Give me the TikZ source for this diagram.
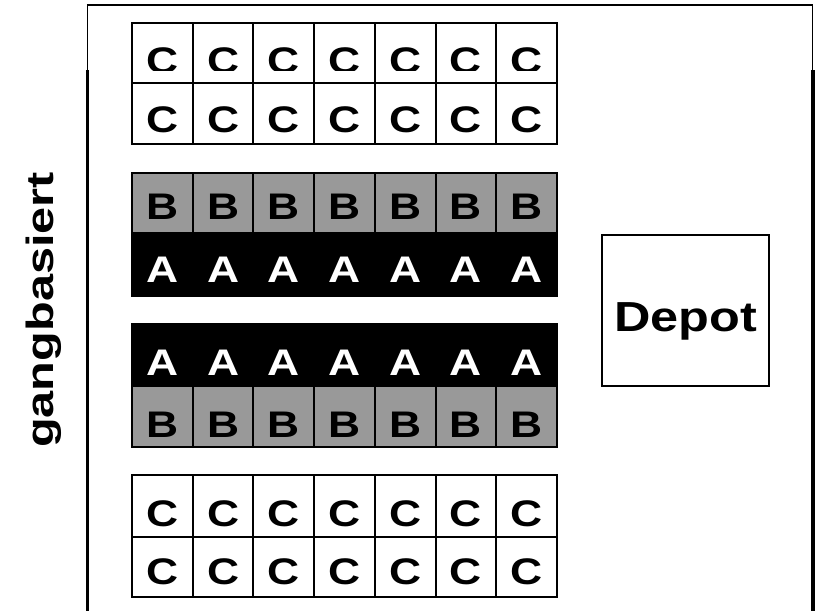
\documentclass[tikz,border=0pt]{standalone}
\usepackage{graphicx}
\usepackage{fontspec}
\setmainfont{Liberation Sans}
\definecolor{shelfgray}{RGB}{153,153,153}
\newcommand\binfont{\fontsize{37pt}{42pt}\selectfont\bfseries}
\newcommand\binletter[1]{\scalebox{1.2}[1]{#1}}
\begin{document}
\begin{tikzpicture}[x=1pt,y=-1pt,
  bin/.style={draw=black, line width=2pt, minimum width=60.71pt,
    minimum height=#1, inner sep=0pt, outer sep=0pt, anchor=north west,
    text depth=0pt, font=\binfont},
  binlabel/.style={inner sep=0pt, text depth=0pt, font=\binfont},
  zoneA/.style={fill=black, text=white},
  zoneB/.style={fill=shelfgray, text=black},
  zoneC/.style={fill=white, text=black}]
\useasboundingbox (0,0) rectangle (817,611);

% warehouse walls (open at the bottom)
\coordinate (wl0) at (87.5,5);
\coordinate (wlm) at (87.5,70);
\coordinate (wl1) at (87.5,611);
\coordinate (wr0) at (812.5,5);
\coordinate (wrm) at (812.5,70);
\coordinate (wr1) at (812.5,611);
\draw[line width=2pt] (86.75,5) -- (813.25,5);
\draw[line width=1.6pt] (wl0) -- (wlm);
\draw[line width=3.5pt] (wlm) -- (wl1);
\draw[line width=1.6pt] (wr0) -- (wrm);
\draw[line width=4pt] (wrm) -- (wr1);

% upper C racks
\foreach \c in {0,...,6} {
  \node[bin=60pt, zoneC] (ct1-\c) at ({132+60.71*\c},23) {};
  \node[bin=61pt, zoneC, text height=37pt] (ct2-\c) at ({132+60.71*\c},83) {\binletter{C}};
}
\begin{scope}
  \clip (132,23) rectangle (557,70.5);
  \foreach \c in {0,...,6}
    \node[binlabel, text height=41pt] (ct1l-\c) at (ct1-\c.center) {\binletter{C}};
\end{scope}

% first B/A rack
\foreach \c in {0,...,6} {
  \node[bin=60pt, zoneB, text height=32pt] (b1-\c) at ({132+60.71*\c},173) {\binletter{B}};
  \node[bin=63pt, zoneA, text height=35pt] (a1-\c) at ({132+60.71*\c},233) {\binletter{A}};
}

% second A/B rack
\foreach \c in {0,...,6} {
  \node[bin=62pt, zoneA, text height=40pt] (a2-\c) at ({132+60.71*\c},324) {\binletter{A}};
  \node[bin=61pt, zoneB, text height=41pt] (b2-\c) at ({132+60.71*\c},386) {\binletter{B}};
}

% lower C racks
\foreach \c in {0,...,6} {
  \node[bin=62pt, zoneC, text height=40pt] (cb1-\c) at ({132+60.71*\c},475) {\binletter{C}};
  \node[bin=60pt, zoneC, text height=34pt] (cb2-\c) at ({132+60.71*\c},537) {\binletter{C}};
}

% depot
\node[draw=black, line width=2pt, minimum width=167pt, minimum height=151pt,
  inner sep=0pt, anchor=north west, text height=41pt, text depth=0pt,
  font=\fontsize{42pt}{48pt}\selectfont\bfseries] (depot) at (601,234)
  {\scalebox{1.2}[1]{Depot}};

% side label
\node[rotate=90, anchor=base, inner sep=0pt,
  font=\fontsize{38pt}{44pt}\selectfont\bfseries] (layout) at (53,310)
  {\scalebox{1.28}[1]{gangbasiert}};
\end{tikzpicture}
\end{document}
